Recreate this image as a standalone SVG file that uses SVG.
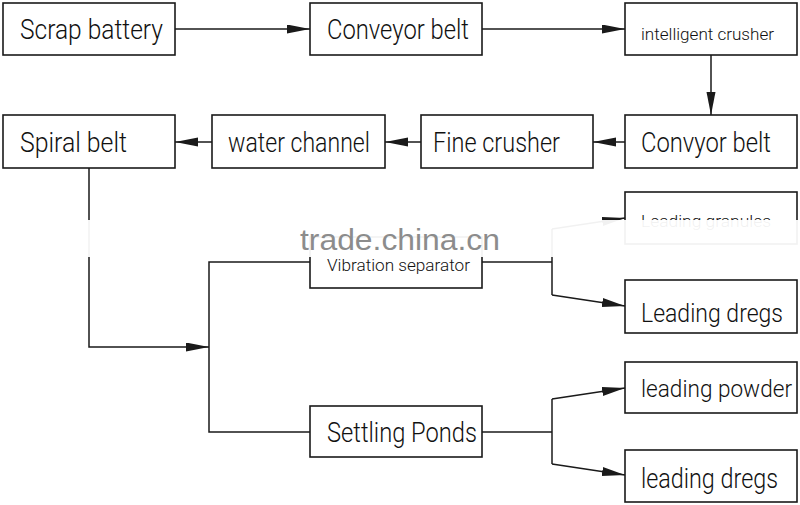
<svg xmlns="http://www.w3.org/2000/svg" width="800" height="505" viewBox="0 0 800 505">
<style>
.box{fill:#fff;stroke:#1a1a1a;stroke-width:1.6}
.t{font-family:Roboto,"DejaVu Sans Condensed","Liberation Sans",sans-serif;font-weight:300;font-size:27px;fill:#111}
.m{font-size:25px}
.n{font-size:23px}
.s{font-size:17px}
.c{fill:none;stroke:#1a1a1a;stroke-width:1.5}
.wm{font-family:"Liberation Sans",Arial,sans-serif;font-size:29px;fill:#8c8c8c}
</style>
<defs>
<marker id="ah" markerUnits="userSpaceOnUse" markerWidth="24" markerHeight="10" refX="23" refY="4.5" orient="auto">
<path d="M0,0 L23,4.5 L0,9 z" fill="#1a1a1a"/>
</marker>
</defs>
<rect width="800" height="505" fill="#fff"/>
<g id="connectors">
<path class="c" d="M175,29 H310" marker-end="url(#ah)"/>
<path class="c" d="M482,29 H625" marker-end="url(#ah)"/>
<path class="c" d="M711,55 V115" marker-end="url(#ah)"/>
<path class="c" d="M625,142 H593" marker-end="url(#ah)"/>
<path class="c" d="M421,142 H385" marker-end="url(#ah)"/>
<path class="c" d="M212,142 H175" marker-end="url(#ah)"/>
<path class="c" d="M89,168 V347 H209" marker-end="url(#ah)"/>
<path class="c" d="M310,262 H209 V432 H310"/>
<path class="c" d="M482,262 H552"/>
<path class="c" d="M552,229 V295"/>
<path class="c" d="M552,229 L625,218" marker-end="url(#ah)"/>
<path class="c" d="M552,295 L625,306" marker-end="url(#ah)"/>
<path class="c" d="M482,432 H552"/>
<path class="c" d="M552,399 V464"/>
<path class="c" d="M552,399 L625,388" marker-end="url(#ah)"/>
<path class="c" d="M552,464 L625,475" marker-end="url(#ah)"/>
</g>
<g id="scrap-battery"><rect class="box" x="3" y="3" width="172" height="52"/><text class="t" x="20" y="39" textLength="143" lengthAdjust="spacingAndGlyphs">Scrap battery</text></g>
<g id="conveyor-belt"><rect class="box" x="310" y="3" width="172" height="52"/><text class="t" x="327" y="39" textLength="142" lengthAdjust="spacingAndGlyphs">Conveyor belt</text></g>
<g id="intelligent-crusher"><rect class="box" x="625" y="3" width="172" height="52"/><text class="t s" x="641" y="40" textLength="133" lengthAdjust="spacingAndGlyphs">intelligent crusher</text></g>
<g id="convyor-belt"><rect class="box" x="625" y="115" width="172" height="53"/><text class="t" x="641" y="152" textLength="130" lengthAdjust="spacingAndGlyphs">Convyor belt</text></g>
<g id="fine-crusher"><rect class="box" x="421" y="115" width="172" height="53"/><text class="t" x="433" y="152" textLength="127" lengthAdjust="spacingAndGlyphs">Fine crusher</text></g>
<g id="water-channel"><rect class="box" x="212" y="115" width="173" height="53"/><text class="t" x="228" y="152" textLength="142" lengthAdjust="spacingAndGlyphs">water channel</text></g>
<g id="spiral-belt"><rect class="box" x="3" y="115" width="172" height="53"/><text class="t" x="20" y="152" textLength="107" lengthAdjust="spacingAndGlyphs">Spiral belt</text></g>
<g id="vibration-separator"><rect class="box" x="310" y="237" width="172" height="51"/><text class="t s" x="327" y="271" textLength="143" lengthAdjust="spacingAndGlyphs">Vibration separator</text></g>
<g id="leading-granules"><rect class="box" x="625" y="192" width="172" height="52"/><text class="t s" x="641" y="227" textLength="130" lengthAdjust="spacingAndGlyphs">Leading granules</text></g>
<g id="leading-dregs-1"><rect class="box" x="625" y="280" width="172" height="53"/><text class="t m" x="641" y="322" textLength="142" lengthAdjust="spacingAndGlyphs">Leading dregs</text></g>
<g id="settling-ponds"><rect class="box" x="310" y="406" width="172" height="51"/><text class="t" x="327" y="442" textLength="150" lengthAdjust="spacingAndGlyphs">Settling Ponds</text></g>
<g id="leading-powder"><rect class="box" x="625" y="362" width="172" height="51"/><text class="t n" x="641" y="397" textLength="151" lengthAdjust="spacingAndGlyphs">leading powder</text></g>
<g id="leading-dregs-2"><rect class="box" x="625" y="450" width="172" height="52"/><text class="t" x="641" y="488" textLength="137" lengthAdjust="spacingAndGlyphs">leading dregs</text></g>
<g id="watermark">
<rect x="84" y="220" width="716" height="37" fill="#fff" fill-opacity="0.94"/>
<text class="wm" x="300" y="250" textLength="200" lengthAdjust="spacingAndGlyphs">trade.china.cn</text>
</g>
</svg>
